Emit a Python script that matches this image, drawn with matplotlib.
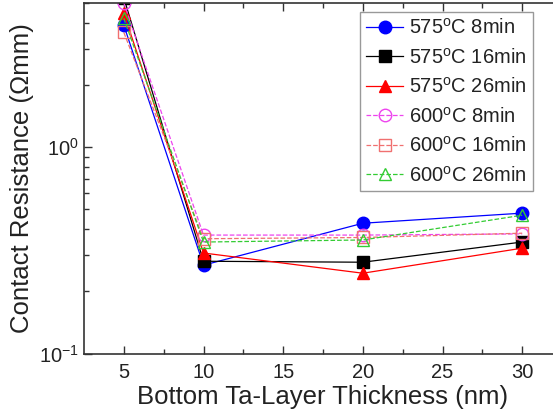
import numpy as np
import matplotlib
matplotlib.use('Agg')
import matplotlib.pyplot as plt

plt.rcParams['font.family'] = ['Liberation Sans', 'DejaVu Sans']
plt.rcParams['mathtext.default'] = 'regular'

# bottom Ta-layer thickness (nm)
thickness = [5, 10, 20, 30]

# contact resistance (ohm mm)
r_575_8 = [3.9, 0.268, 0.428, 0.479]
r_575_16 = [5.3, 0.28, 0.277, 0.347]
r_575_26 = [4.46, 0.307, 0.245, 0.324]
r_600_8 = [5.0, 0.375, 0.375, 0.38]
r_600_16 = [3.6, 0.36, 0.365, 0.383]
r_600_26 = [4.21, 0.347, 0.355, 0.468]

labels = [r'575$^{o}$C 8min', r'575$^{o}$C 16min', r'575$^{o}$C 26min',
          r'600$^{o}$C 8min', r'600$^{o}$C 16min', r'600$^{o}$C 26min']

fig = plt.figure(figsize=(5.53, 4.13), dpi=100)
ax = fig.add_axes([84 / 553, 1 - 353.5 / 413, (562 - 84) / 553, (353.5 - 3) / 413])

ax.plot(thickness, r_575_8, '-o', color='#0000ff', lw=0.9, ms=9, label=labels[0])
ax.plot(thickness, r_575_16, '-s', color='black', lw=0.9, ms=8, label=labels[1])
ax.plot(thickness, r_575_26, '-^', color='#ff0000', lw=0.9, ms=9, label=labels[2])
ax.plot(thickness, r_600_8, '--o', color='#ee44ee', lw=0.9, ms=9, mfc='none', label=labels[3])
ax.plot(thickness, r_600_16, '--s', color='#f07070', lw=0.9, ms=8, mfc='none', label=labels[4])
ax.plot(thickness, r_600_26, '--^', color='#33cc33', lw=0.9, ms=9, mfc='none', label=labels[5])

ax.set_yscale('log')
ax.set_xlim(2.5, 32.5)
ax.set_ylim(0.1, 5.0)
ax.set_xticks([5, 10, 15, 20, 25, 30])
ax.set_xticks([7.5, 12.5, 17.5, 22.5, 27.5], minor=True)
ax.yaxis.set_minor_formatter(matplotlib.ticker.NullFormatter())

ax.tick_params(which='both', direction='in', top=True, right=True, labelsize=14.5,
               color='#333333', labelcolor='#222222')
ax.tick_params(axis='x', which='major', pad=7)
ax.tick_params(which='major', length=6, width=1)
ax.tick_params(which='minor', length=3.5, width=1)
for s in ax.spines.values():
    s.set_linewidth(1.2)
    s.set_color('#333333')

ax.set_xlabel('Bottom Ta-Layer Thickness (nm)', fontsize=18.5, labelpad=2, color='#222222')
ax.set_ylabel('Contact Resistance (Ωmm)', fontsize=18.5, labelpad=4, color='#222222')

leg = ax.legend(loc='upper right', bbox_to_anchor=(533 / 553, 1 - 12 / 413),
                bbox_transform=fig.transFigure, borderaxespad=0, fontsize=14.5,
                fancybox=False, edgecolor='#999999', framealpha=1,
                handlelength=1.85, handletextpad=0.3, labelspacing=0.47, borderpad=0.3)
leg.get_frame().set_linewidth(1.0)
for t in leg.get_texts():
    t.set_color('#222222')

fig.savefig('out.png', dpi=100)
